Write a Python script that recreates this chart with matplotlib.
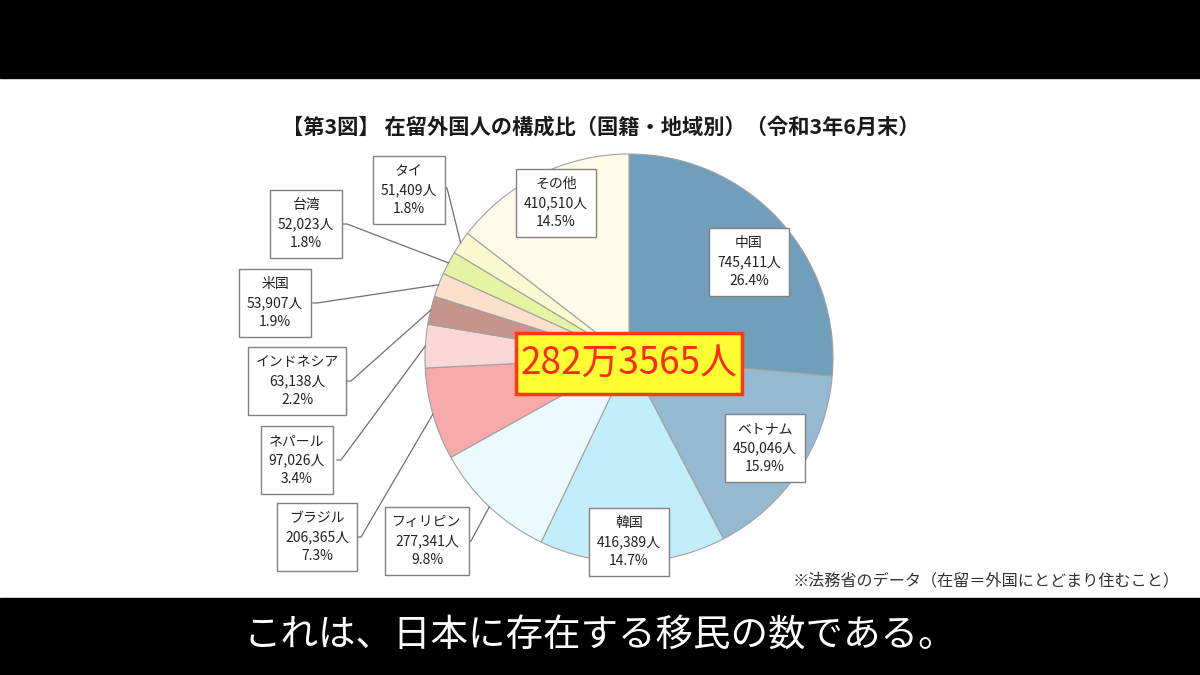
import numpy as np
import matplotlib
matplotlib.use("Agg")
import matplotlib.pyplot as plt

plt.rcParams['font.family'] = ['Noto Sans CJK JP', 'DejaVu Sans']

# data (clockwise from 12 o'clock)
names = ['中国', 'ベトナム', '韓国', 'フィリピン', 'ブラジル', 'ネパール',
         'インドネシア', '米国', '台湾', 'タイ', 'その他']
counts = [745411, 450046, 416389, 277341, 206365, 97026,
          63138, 53907, 52023, 51409, 410510]
shares = [26.4, 15.9, 14.7, 9.8, 7.3, 3.4, 2.2, 1.9, 1.8, 1.8, 14.5]
total_label = '282万3565人'

colors = ['#6f9fba', '#94b9d1', '#c2eefa', '#eafafd', '#f8a9a9', '#fcd7d7',
          '#c6958a', '#fde0cc', '#e5f4a2', '#fbf9cf', '#fffbe9']

H = 675


def Y(v):
    # image pixel row -> data y
    return H - v


fig = plt.figure(figsize=(12, 6.75), dpi=100)
ax = fig.add_axes([0, 0, 1, 1])
fig.patch.set_facecolor('white')

cx, cy, r = 629, Y(358), 204
wedges, _ = ax.pie(counts, colors=colors, startangle=90, counterclock=False,
                   center=(cx, cy), radius=r,
                   wedgeprops=dict(edgecolor='#a0a0a0', linewidth=0.8))
ax.set_xlim(0, 1200)
ax.set_ylim(0, H)
ax.set_aspect('equal')
ax.axis('off')

# black letterbox bars
ax.add_patch(plt.Rectangle((0, Y(78)), 1200, 78, color='black', zorder=0))
ax.add_patch(plt.Rectangle((0, 0), 1200, H - 598, color='black', zorder=5))

# label box centres (image px) and leader start points (None = inside pie)
label_pos = {
    '中国': (749, 262), 'ベトナム': (765, 448), '韓国': (629, 542),
    'フィリピン': (427, 541), 'ブラジル': (317, 537), 'ネパール': (297, 460),
    'インドネシア': (297, 381), '米国': (275, 303), '台湾': (306, 224),
    'タイ': (409, 190), 'その他': (556, 203),
}
leader_start = {
    'フィリピン': (467, 541), 'ブラジル': (357, 537), 'ネパール': (337, 460),
    'インドネシア': (347, 381), '米国': (313, 303), '台湾': (343, 224),
    'タイ': (443, 188),
}

for w, name, n, s in zip(wedges, names, counts, shares):
    lx, ly = label_pos[name]
    txt = f'{name}\n{n:,}人\n{s}%'
    ax.text(lx, Y(ly), txt, ha='center', va='center', fontsize=10,
            linespacing=1.45, color='#222222', zorder=6,
            bbox=dict(boxstyle='square,pad=0.55', fc='white', ec='#808080', lw=1))
    if name in leader_start:
        sx, sy = leader_start[name]
        mid = np.deg2rad((w.theta1 + w.theta2) / 2)
        ex, ey = cx + r * np.cos(mid), cy + r * np.sin(mid)
        ax.plot([sx, sx + 4, ex], [Y(sy), Y(sy), ey], color='#707070',
                lw=0.9, zorder=4)

# total in the middle
ax.add_patch(plt.Rectangle((516, Y(394)), 226, 61, fc='#ffff33', ec='#ff3a10',
                           lw=2.5, zorder=7))
ax.text(629, Y(364), total_label, ha='center', va='center', fontsize=26.5,
        color='#ff2a10', zorder=8)

ax.text(601, Y(127), '【第3図】 在留外国人の構成比（国籍・地域別）（令和3年6月末）',
        ha='center', va='center', fontsize=15.3, fontweight='bold', color='#1a1a1a')

ax.text(1180, Y(581), '※法務省のデータ（在留＝外国にとどまり住むこと）',
        ha='right', va='center', fontsize=11.6, color='#333333')

ax.text(600, Y(636), 'これは、日本に存在する移民の数である。', ha='center', va='center',
        fontsize=27, color='white', zorder=6)

fig.savefig('out.png', dpi=100, facecolor='white')
